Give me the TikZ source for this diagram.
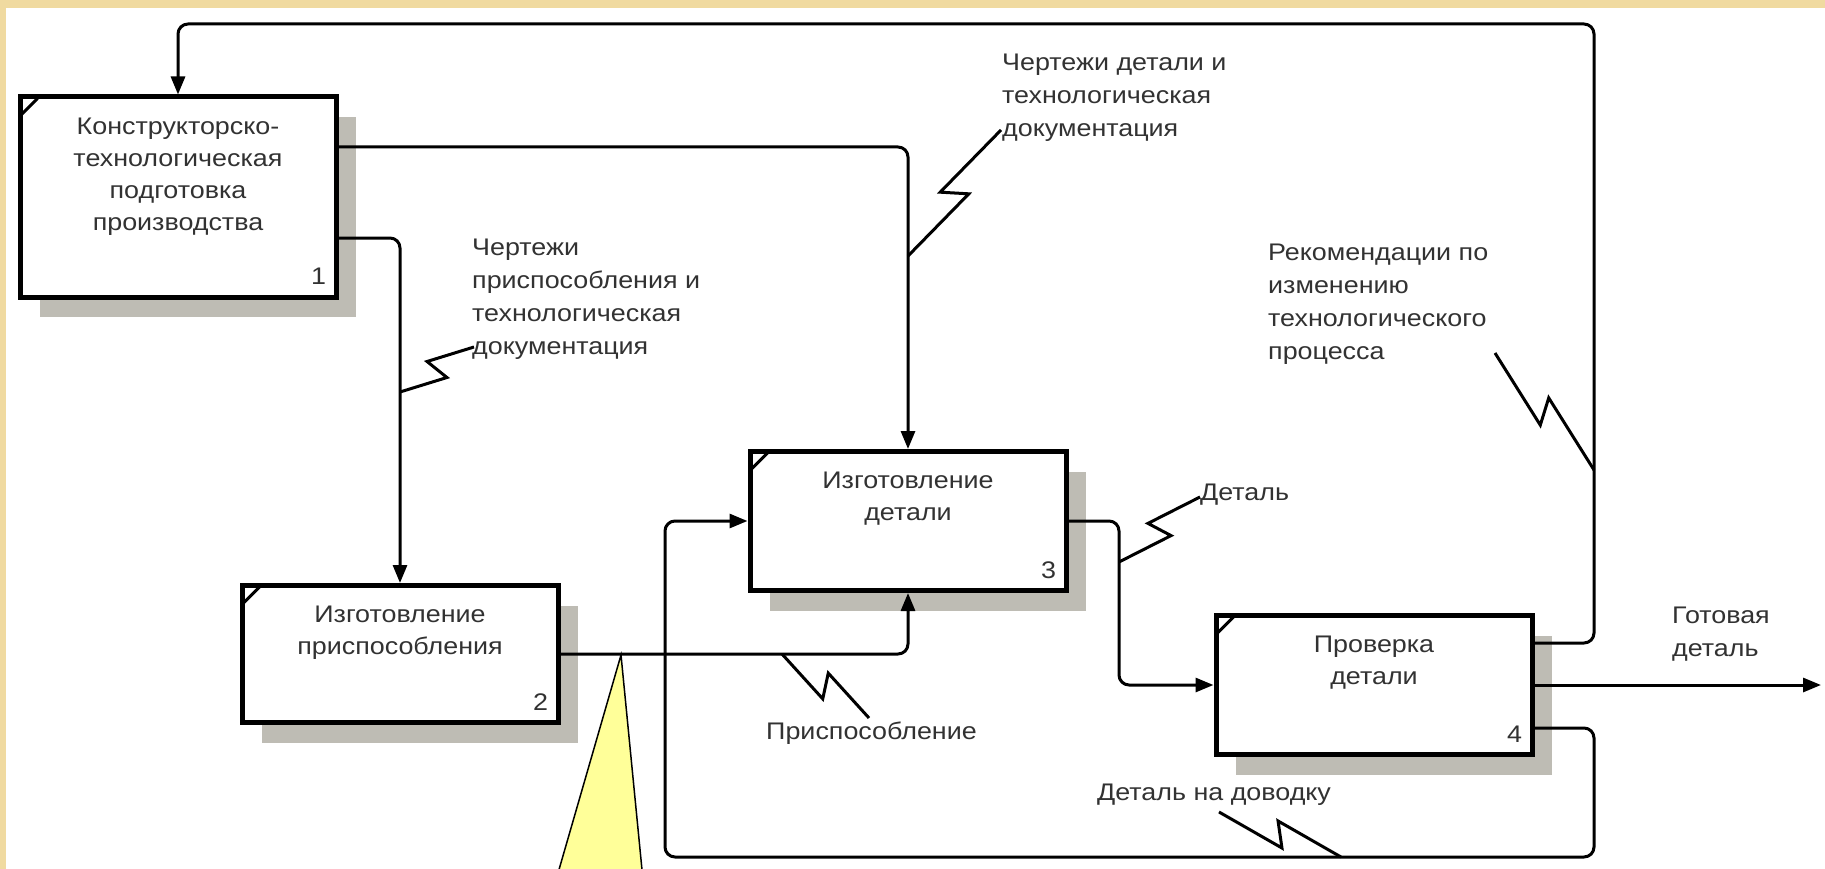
\documentclass[tikz,border=0pt]{standalone}
\usepackage{fontspec}
\setmainfont{Liberation Sans}[FakeStretch=1.12]
\usetikzlibrary{arrows.meta,calc,shadows}
\definecolor{beige}{RGB}{240,218,160}
\definecolor{shadowgray}{RGB}{190,188,180}
\definecolor{tri}{RGB}{255,255,153}
\definecolor{ink}{RGB}{50,50,50}
\newcommand\squig[2]{\draw[squigline] (#1) -- ($(#1)!.55!(#2)!12pt!-90:(#2)$) -- ($(#1)!.45!(#2)!12pt!90:(#2)$) -- (#2);}
\begin{document}
\begin{tikzpicture}[x=1pt,y=-1pt,
  actbox/.style={draw=black, line width=5pt, fill=white, minimum width=316pt, inner sep=0pt,
    drop shadow={shadow xshift=20pt, shadow yshift=-20pt, fill=shadowgray, opacity=1}},
  boxtext/.style={font=\fontsize{24}{32}\selectfont, text=ink, align=center, anchor=north, inner sep=0pt},
  numtext/.style={font=\fontsize{24}{32}\selectfont, text=ink, inner sep=0pt},
  lab/.style={font=\fontsize{24}{33}\selectfont, text=ink, align=left, anchor=north west, inner sep=0pt},
  conn/.style={draw=black, line width=3pt, rounded corners=10pt},
  arr/.style={-{Triangle[length=18pt,width=14pt]}},
  squigline/.style={draw=black, line width=3pt},
  corner/.style={draw=black, line width=3pt}]
\useasboundingbox (0,0) rectangle (1825,869);
\fill[white] (0,0) rectangle (1825,869);
\fill[beige] (0,0) rectangle (1825,8);
\fill[beige] (0,0) rectangle (6,869);

% boxes
\node[actbox, minimum height=200pt] (b1) at (178,197) {};
\node[actbox, minimum height=137pt] (b2) at (400,654) {};
\node[actbox, minimum height=139pt] (b3) at (908,521) {};
\node[actbox, minimum height=139pt] (b4) at (1374,685) {};

\foreach \b in {b1,b2,b3,b4}{
  \draw[corner] ($(\b.north west)+(4,20)$) -- ($(\b.north west)+(20,4)$);
}

\node[boxtext] (t1) at ($(b1.north)+(0,23)$) {Конструкторско-\\технологическая\\подготовка\\производства};
\node[boxtext] (t2) at ($(b2.north)+(0,23)$) {Изготовление\\приспособления};
\node[boxtext] (t3) at ($(b3.north)+(0,23)$) {Изготовление\\детали};
\node[boxtext] (t4) at ($(b4.north)+(0,23)$) {Проверка\\детали};

\node[numtext] (n1) at ($(b1.south east)+(-20,-23)$) {1};
\node[numtext] (n2) at ($(b2.south east)+(-20,-23)$) {2};
\node[numtext] (n3) at ($(b3.south east)+(-20,-23)$) {3};
\node[numtext] (n4) at ($(b4.south east)+(-20,-23)$) {4};

% connectors
\draw[conn,arr] (b1.east |- 0,147) -| (b3.north);
\draw[conn,arr] (b1.east |- 0,238) -| (b2.north);
\draw[conn,arr] (b2.east) -| (b3.south);
\coordinate (j34) at (1119,600);
\draw[conn,arr] (b3.east) -- (b3.east -| j34) -- (b4.west -| j34) -- (b4.west);
\coordinate (rt) at (1594,24);
\draw[conn,arr] (b4.east |- 0,643) -- (rt |- 0,643) -- (rt) -- (b1.north |- rt) -- (b1.north);
\coordinate (rb) at (1594,857);
\coordinate (lb) at (665,857);
\draw[conn,arr] (b4.east |- 0,728) -- (rb |- 0,728) -- (rb) -- (lb) -- (lb |- b3.west) -- (b3.west);
\coordinate (out) at (1821,685);
\draw[conn,arr] (b4.east) -- (out);

% labels
\node[lab] (l1) at (472,239) {Чертежи\\приспособления и\\технологическая\\документация};
\node[lab] (l2) at (1002,54) {Чертежи детали и\\технологическая\\документация};
\node[lab] (l3) at (1268,244) {Рекомендации по\\изменению\\технологического\\процесса};
\node[lab] (l4) at (1200,484) {Деталь};
\node[lab] (l5) at (766,722) {Приспособление};
\node[lab] (l6) at (1097,784) {Деталь на доводку};
\node[lab] (l7) at (1672,607) {Готовая\\деталь};

% squiggles
\coordinate (s1a) at (400,392); \coordinate (s1b) at (474,347);
\coordinate (s2a) at (908,256); \coordinate (s2b) at (1001,130);
\coordinate (s3a) at (1594,470); \coordinate (s3b) at (1495,353);
\coordinate (s4a) at (1119,562); \coordinate (s4b) at (1200,497);
\coordinate (s5a) at (782,654); \coordinate (s5b) at (869,718);
\coordinate (s6a) at (1341,857); \coordinate (s6b) at (1219,812);
\squig{s1a}{s1b}
\squig{s2a}{s2b}
\squig{s3a}{s3b}
\squig{s4a}{s4b}
\squig{s5a}{s5b}
\squig{s6a}{s6b}

% callout triangle
\coordinate (ta) at (621,655);
\filldraw[fill=tri, draw=black, line width=1.5pt] (ta) -- (556,880) -- (643,880) -- cycle;
\end{tikzpicture}
\end{document}
